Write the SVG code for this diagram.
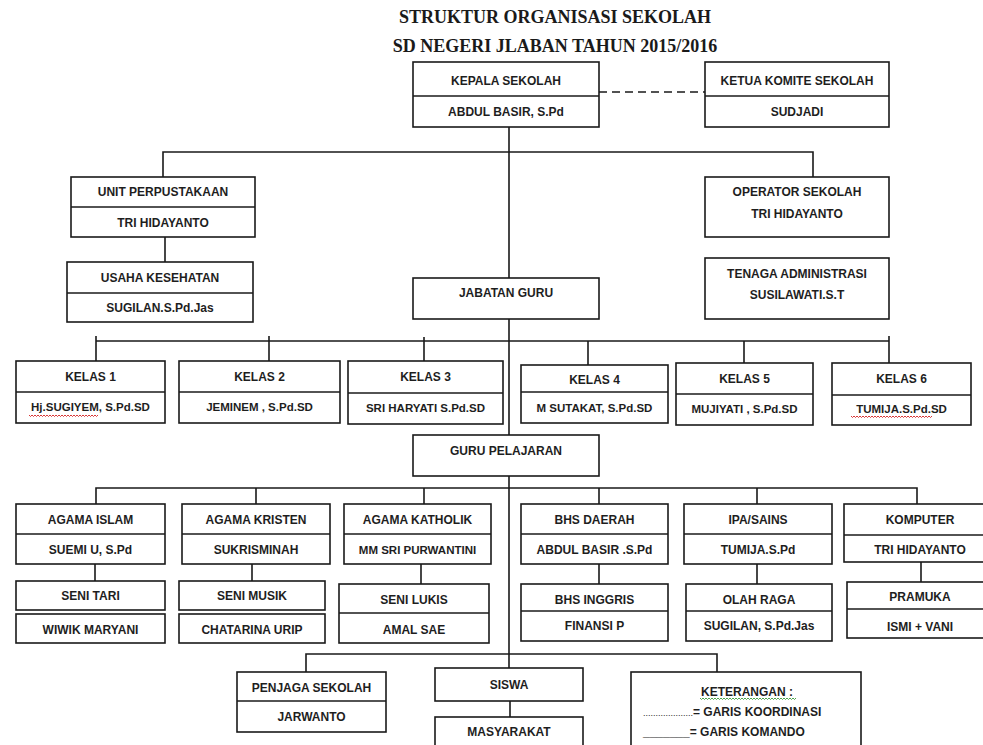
<svg xmlns="http://www.w3.org/2000/svg" width="983" height="745" viewBox="0 0 983 745">
<style>
.b{fill:#fff;stroke:#1a1a1a;stroke-width:1.6}
.d{fill:none;stroke:#1a1a1a;stroke-width:1.6}
.c{fill:none;stroke:#1a1a1a;stroke-width:1.6}
.t{font-family:"Liberation Sans",Arial,sans-serif;font-size:12px;font-weight:bold;fill:#1e1e1e;text-anchor:middle}
.s{font-size:11.5px}
.l{text-anchor:start}
.ti{font-family:"Liberation Serif","Times New Roman",serif;font-size:18px;font-weight:bold;fill:#1a1a1a;text-anchor:middle}
.sq{fill:none;stroke-width:0.9}
</style>
<rect width="983" height="745" fill="#fff"/>
<g id="title">
<text class="ti" x="555" y="23">STRUKTUR ORGANISASI SEKOLAH</text>
<text class="ti" x="555" y="52">SD NEGERI JLABAN TAHUN 2015/2016</text>
</g>
<g id="connectors">
<path class="c" d="M509 127V278M509 319V435M509 476V668M510 701V717"/>
<path class="c" d="M163 177V152H813V177M165 237V262"/>
<path class="c" d="M96 341H889M96 336V361M269 336V361M424 337V361M588 341V365M744 341V363M889 336V363"/>
<path class="c" d="M96 504V488H917V504M256 488V504M424 488V504M599 488V504M757 488V504"/>
<path class="c" d="M95 564V581M252 564V581M421 564V584M599 564V584M757 564V584M921 562V582"/>
<path class="c" d="M306 672V654H717V672"/>
<path class="c" stroke-dasharray="8 5" d="M599 92H705"/>
</g>
<g id="kepala-sekolah"><rect class="b" x="413" y="62" width="186" height="65"/><path class="d" d="M413 96H599"/><text class="t" x="506" y="85">KEPALA SEKOLAH</text><text class="t" x="506" y="116">ABDUL BASIR, S.Pd</text></g>
<g id="ketua-komite"><rect class="b" x="705" y="62" width="184" height="65"/><path class="d" d="M705 96H889"/><text class="t" x="797" y="85">KETUA KOMITE SEKOLAH</text><text class="t" x="797" y="116">SUDJADI</text></g>
<g id="unit-perpustakaan"><rect class="b" x="71" y="177" width="184" height="60"/><path class="d" d="M71 207H255"/><text class="t" x="163" y="196">UNIT PERPUSTAKAAN</text><text class="t" x="163" y="227">TRI HIDAYANTO</text></g>
<g id="usaha-kesehatan"><rect class="b" x="67" y="262" width="186" height="60"/><path class="d" d="M67 293H253"/><text class="t" x="160" y="282">USAHA KESEHATAN</text><text class="t" x="160" y="312">SUGILAN.S.Pd.Jas</text></g>
<g id="operator-sekolah"><rect class="b" x="705" y="177" width="184" height="60"/><text class="t" x="797" y="196">OPERATOR SEKOLAH</text><text class="t" x="797" y="218">TRI HIDAYANTO</text></g>
<g id="tenaga-administrasi"><rect class="b" x="705" y="258" width="184" height="61"/><text class="t" x="797" y="278">TENAGA ADMINISTRASI</text><text class="t" x="797" y="299">SUSILAWATI.S.T</text></g>
<g id="jabatan-guru"><rect class="b" x="413" y="278" width="186" height="41"/><text class="t" x="506" y="297">JABATAN GURU</text></g>
<g id="kelas-1"><rect class="b" x="16" y="361" width="149" height="62"/><path class="d" d="M16 392H165"/><text class="t" x="90.5" y="381">KELAS 1</text><text class="t s" x="90.5" y="411">Hj.SUGIYEM, S.Pd.SD</text>
<path class="sq" stroke="#d42020" d="M29 415l1.5 1.5l1.5-1.5l1.5 1.5l1.5-1.5l1.5 1.5l1.5-1.5l1.5 1.5l1.5-1.5l1.5 1.5l1.5-1.5l1.5 1.5l1.5-1.5l1.5 1.5l1.5-1.5l1.5 1.5l1.5-1.5l1.5 1.5l1.5-1.5l1.5 1.5l1.5-1.5l1.5 1.5l1.5-1.5l1.5 1.5l1.5-1.5l1.5 1.5l1.5-1.5l1.5 1.5l1.5-1.5l1.5 1.5l1.5-1.5l1.5 1.5l1.5-1.5l1.5 1.5l1.5-1.5l1.5 1.5l1.5-1.5l1.5 1.5l1.5-1.5l1.5 1.5l1.5-1.5l1.5 1.5l1.5-1.5l1.5 1.5l1.5-1.5l1.5 1.5l1.5-1.5"/></g>
<g id="kelas-2"><rect class="b" x="179" y="361" width="161" height="62"/><path class="d" d="M179 392H340"/><text class="t" x="259.5" y="381">KELAS 2</text><text class="t s" x="259.5" y="411">JEMINEM , S.Pd.SD</text></g>
<g id="kelas-3"><rect class="b" x="348" y="361" width="155" height="63"/><path class="d" d="M348 393H503"/><text class="t" x="425.5" y="381">KELAS 3</text><text class="t s" x="425.5" y="412">SRI HARYATI  S.Pd.SD</text></g>
<g id="kelas-4"><rect class="b" x="521" y="365" width="147" height="58"/><path class="d" d="M521 392H668"/><text class="t" x="594.5" y="384">KELAS 4</text><text class="t s" x="594.5" y="412">M SUTAKAT, S.Pd.SD</text></g>
<g id="kelas-5"><rect class="b" x="676" y="363" width="137" height="62"/><path class="d" d="M676 394H813"/><text class="t" x="744.5" y="383">KELAS 5</text><text class="t s" x="744.5" y="413">MUJIYATI , S.Pd.SD</text></g>
<g id="kelas-6"><rect class="b" x="832" y="363" width="139" height="62"/><path class="d" d="M832 395H971"/><text class="t" x="901.5" y="383">KELAS 6</text><text class="t s" x="901.5" y="413">TUMIJA.S.Pd.SD</text>
<path class="sq" stroke="#d42020" d="M851 416l1.5 1.5l1.5-1.5l1.5 1.5l1.5-1.5l1.5 1.5l1.5-1.5l1.5 1.5l1.5-1.5l1.5 1.5l1.5-1.5l1.5 1.5l1.5-1.5l1.5 1.5l1.5-1.5l1.5 1.5l1.5-1.5l1.5 1.5l1.5-1.5l1.5 1.5l1.5-1.5l1.5 1.5l1.5-1.5l1.5 1.5l1.5-1.5l1.5 1.5l1.5-1.5l1.5 1.5l1.5-1.5l1.5 1.5l1.5-1.5l1.5 1.5l1.5-1.5l1.5 1.5l1.5-1.5l1.5 1.5l1.5-1.5l1.5 1.5l1.5-1.5l1.5 1.5l1.5-1.5l1.5 1.5l1.5-1.5l1.5 1.5l1.5-1.5l1.5 1.5l1.5-1.5l1.5 1.5l1.5-1.5l1.5 1.5l1.5-1.5l1.5 1.5l1.5-1.5l1.5 1.5l1.5-1.5"/></g>
<g id="guru-pelajaran"><rect class="b" x="413" y="435" width="186" height="41"/><text class="t" x="506" y="455">GURU PELAJARAN</text></g>
<g id="agama-islam"><rect class="b" x="16" y="504" width="149" height="60"/><path class="d" d="M16 534H165"/><text class="t" x="90.5" y="524">AGAMA ISLAM</text><text class="t" x="90.5" y="554">SUEMI U, S.Pd</text></g>
<g id="seni-tari"><rect class="b" x="16" y="581" width="149" height="29"/><text class="t" x="90.5" y="600">SENI TARI</text></g>
<g id="wiwik-maryani"><rect class="b" x="16" y="614" width="149" height="29"/><text class="t" x="90.5" y="634">WIWIK MARYANI</text></g>
<g id="agama-kristen"><rect class="b" x="182" y="504" width="148" height="60"/><path class="d" d="M182 534H330"/><text class="t" x="256" y="524">AGAMA KRISTEN</text><text class="t" x="256" y="554">SUKRISMINAH</text></g>
<g id="seni-musik"><rect class="b" x="179" y="581" width="146" height="29"/><text class="t" x="252" y="600">SENI MUSIK</text></g>
<g id="chatarina-urip"><rect class="b" x="179" y="614" width="146" height="29"/><text class="t" x="252" y="634">CHATARINA URIP</text></g>
<g id="agama-katholik"><rect class="b" x="344" y="504" width="147" height="60"/><path class="d" d="M344 534H491"/><text class="t" x="417.5" y="524">AGAMA KATHOLIK</text><text class="t s" x="417.5" y="554">MM SRI PURWANTINI</text></g>
<g id="seni-lukis"><rect class="b" x="339" y="584" width="150" height="59"/><path class="d" d="M339 613H489"/><text class="t" x="414" y="604">SENI LUKIS</text><text class="t" x="414" y="634">AMAL SAE</text></g>
<g id="bhs-daerah"><rect class="b" x="521" y="504" width="147" height="60"/><path class="d" d="M521 534H668"/><text class="t" x="594.5" y="524">BHS DAERAH</text><text class="t" x="594.5" y="554">ABDUL BASIR .S.Pd</text></g>
<g id="bhs-inggris"><rect class="b" x="521" y="584" width="147" height="57"/><path class="d" d="M521 611H668"/><text class="t" x="594.5" y="604">BHS INGGRIS</text><text class="t" x="594.5" y="630">FINANSI P</text></g>
<g id="ipa-sains"><rect class="b" x="684" y="504" width="148" height="60"/><path class="d" d="M684 534H832"/><text class="t" x="758" y="524">IPA/SAINS</text><text class="t" x="758" y="554">TUMIJA.S.Pd</text></g>
<g id="olah-raga"><rect class="b" x="686" y="584" width="146" height="57"/><path class="d" d="M686 611H832"/><text class="t" x="759" y="604">OLAH RAGA</text><text class="t" x="759" y="630">SUGILAN, S.Pd.Jas</text></g>
<g id="komputer"><rect class="b" x="844" y="504" width="150" height="58"/><path class="d" d="M844 535H994"/><text class="t" x="920" y="524">KOMPUTER</text><text class="t" x="920" y="554">TRI HIDAYANTO</text></g>
<g id="pramuka"><rect class="b" x="847" y="582" width="150" height="56"/><path class="d" d="M847 609H997"/><text class="t" x="920" y="601">PRAMUKA</text><text class="t" x="920" y="631">ISMI + VANI</text></g>
<g id="penjaga-sekolah"><rect class="b" x="237" y="672" width="149" height="60"/><path class="d" d="M237 701H386"/><text class="t" x="311.5" y="692">PENJAGA SEKOLAH</text><text class="t" x="311.5" y="721">JARWANTO</text></g>
<g id="siswa"><rect class="b" x="435" y="668" width="148" height="33"/><text class="t" x="509" y="689">SISWA</text></g>
<g id="masyarakat"><rect class="b" x="435" y="717" width="148" height="40"/><text class="t" x="509" y="736">MASYARAKAT</text></g>
<g id="keterangan"><rect class="b" x="631" y="672" width="230" height="80"/>
<text class="t" x="747" y="696">KETERANGAN :</text>
<path class="sq" stroke="#3a9a3a" d="M700 698l1.5 1.5l1.5-1.5l1.5 1.5l1.5-1.5l1.5 1.5l1.5-1.5l1.5 1.5l1.5-1.5l1.5 1.5l1.5-1.5l1.5 1.5l1.5-1.5l1.5 1.5l1.5-1.5l1.5 1.5l1.5-1.5l1.5 1.5l1.5-1.5l1.5 1.5l1.5-1.5l1.5 1.5l1.5-1.5l1.5 1.5l1.5-1.5l1.5 1.5l1.5-1.5l1.5 1.5l1.5-1.5l1.5 1.5l1.5-1.5l1.5 1.5l1.5-1.5l1.5 1.5l1.5-1.5l1.5 1.5l1.5-1.5l1.5 1.5l1.5-1.5l1.5 1.5l1.5-1.5l1.5 1.5l1.5-1.5l1.5 1.5l1.5-1.5l1.5 1.5l1.5-1.5l1.5 1.5l1.5-1.5l1.5 1.5l1.5-1.5l1.5 1.5l1.5-1.5l1.5 1.5l1.5-1.5l1.5 1.5l1.5-1.5l1.5 1.5l1.5-1.5l1.5 1.5l1.5-1.5l1.5 1.5l1.5-1.5l1.5 1.5l1.5-1.5"/>
<text class="t l" x="643" y="716"><tspan style="font-weight:normal;font-size:9px">....................</tspan>= GARIS KOORDINASI</text>
<text class="t l" x="643" y="736">_______= GARIS KOMANDO</text></g>
</svg>
